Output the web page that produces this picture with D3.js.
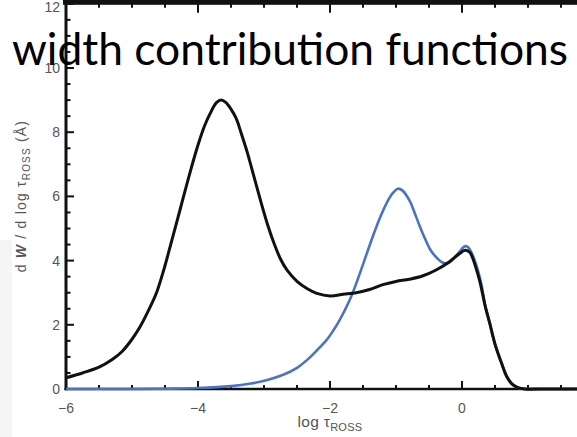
<!DOCTYPE html>
<html>
<head>
<meta charset="utf-8">
<script src="https://cdn.jsdelivr.net/npm/d3@7"></script>
<style>
  html, body { margin: 0; padding: 0; background: #fff; }
  svg { display: block; }
  .tick-label { font-family: "Liberation Sans", Arial, sans-serif; font-size: 14px; fill: #555; }
</style>
</head>
<body>
<svg id="chart" width="577" height="437"></svg>
<script>
// Contribution functions of the equivalent width, d W / d log tau_Ross
const blackLogTau = [-6.0, -5.75, -5.5, -5.3, -5.15, -5.0, -4.88, -4.75, -4.63, -4.52, -4.42, -4.27,
                     -4.12, -4.0, -3.9, -3.8, -3.72, -3.65, -3.58, -3.5, -3.42, -3.35, -3.25, -3.15,
                     -3.05, -2.95, -2.85, -2.75, -2.65, -2.5, -2.35, -2.2, -2.0, -1.8, -1.6, -1.4,
                     -1.2, -1.0, -0.8, -0.6, -0.4, -0.2, -0.05, 0.05, 0.12, 0.2, 0.27, 0.35, 0.42,
                     0.5, 0.6, 0.68, 0.76, 0.85, 0.95, 1.2, 1.6, 2.0];
const blackValues = [0.35, 0.5, 0.68, 0.92, 1.17, 1.55, 1.93, 2.45, 2.99, 3.7, 4.45, 5.6,
                     6.75, 7.6, 8.2, 8.65, 8.92, 9.0, 8.93, 8.72, 8.42, 8.0, 7.35, 6.6,
                     5.85, 5.15, 4.55, 4.05, 3.7, 3.35, 3.13, 2.98, 2.9, 2.95, 3.0, 3.1,
                     3.25, 3.35, 3.42, 3.52, 3.7, 3.95, 4.2, 4.32, 4.25, 3.85, 3.35, 2.6, 2.05,
                     1.4, 0.8, 0.38, 0.15, 0.04, 0.0, 0.0, 0.0, 0.0];

const blueLogTau = [-6.0, -5.0, -4.5, -4.0, -3.5, -3.2, -2.95, -2.7, -2.5, -2.35, -2.2, -2.05, -1.95,
                    -1.85, -1.7, -1.6, -1.48, -1.35, -1.24, -1.14, -1.05, -0.97, -0.9, -0.79, -0.72,
                    -0.64, -0.56, -0.48, -0.38, -0.29, -0.2, -0.14, -0.05, 0.05, 0.1, 0.17, 0.24,
                    0.3, 0.35, 0.42, 0.5, 0.6, 0.68, 0.76, 0.85, 0.95, 1.2, 1.6, 2.0];
const blueValues  = [0.0, 0.0, 0.01, 0.03, 0.09, 0.17, 0.28, 0.45, 0.66, 0.9, 1.2, 1.53, 1.82,
                     2.16, 2.78, 3.3, 4.0, 4.76, 5.35, 5.8, 6.1, 6.24, 6.18, 5.85, 5.5,
                     5.07, 4.68, 4.34, 4.08, 3.93, 3.93, 4.03, 4.25, 4.45, 4.4, 4.13, 3.7,
                     3.2, 2.6, 2.05, 1.4, 0.8, 0.38, 0.15, 0.04, 0.0, 0.0, 0.0, 0.0];

const xMajorTicks = [-6, -4, -2, 0, 2];
const xTickLabels = ["\u22126", "\u22124", "\u22122", "0"];
const yMajorTicks = [0, 2, 4, 6, 8, 10, 12];
const yTickLabels = ["0", "2", "4", "6", "8", "10", "12"];
const titleText = "width contribution functions";

const svg = d3.select("#chart");

const x = d3.scaleLinear().domain([-6, 2]).range([66, 594]);
const y = d3.scaleLinear().domain([0, 12]).range([389, 3.8]);

// faint strip at the left edge of the slide
svg.append("rect").attr("x", 0).attr("y", 240).attr("width", 12).attr("height", 197).attr("fill", "#f5f5f5");

const minorX = d3.range(-6, 2.01, 0.5);
const minorY = d3.range(0, 12.01, 0.5);

// bottom axis
const gx = svg.append("g");
gx.append("line").attr("x1", x(-6) - 1.5).attr("x2", 600).attr("y1", y(0)).attr("y2", y(0))
  .attr("stroke", "#111").attr("stroke-width", 2.6);
gx.selectAll(".xt").data(minorX).join("line")
  .attr("x1", d => x(d)).attr("x2", d => x(d))
  .attr("y1", y(0)).attr("y2", d => y(0) - (xMajorTicks.includes(d) ? 8 : 4))
  .attr("stroke", "#111").attr("stroke-width", 2);
gx.selectAll(".xl").data(xTickLabels).join("text")
  .attr("class", "tick-label").attr("x", (d, i) => x(xMajorTicks[i])).attr("y", y(0) + 24)
  .attr("text-anchor", "middle").text(d => d);

// top frame edge
const gt = svg.append("g");
gt.append("rect").attr("x", x(-6) - 3).attr("y", 0).attr("width", 600).attr("height", y(12) + 1)
  .attr("fill", "#111");
gt.selectAll(".tt").data(minorX).join("line")
  .attr("x1", d => x(d)).attr("x2", d => x(d))
  .attr("y1", y(12)).attr("y2", d => y(12) + (xMajorTicks.includes(d) ? 9 : 4))
  .attr("stroke", "#111").attr("stroke-width", 2);

// left axis
const gy = svg.append("g");
gy.append("line").attr("x1", x(-6)).attr("x2", x(-6)).attr("y1", 0).attr("y2", y(0) + 1.3)
  .attr("stroke", "#111").attr("stroke-width", 3);
gy.selectAll(".yt").data(minorY).join("line")
  .attr("x1", x(-6)).attr("x2", d => x(-6) + (yMajorTicks.includes(d) ? 8 : 4.5))
  .attr("y1", d => y(d)).attr("y2", d => y(d))
  .attr("stroke", "#111").attr("stroke-width", 2);
gy.selectAll(".yl").data(yTickLabels).join("text")
  .attr("class", "tick-label").attr("x", x(-6) - 6)
  .attr("y", (d, i) => y(yMajorTicks[i]) + (i === yMajorTicks.length - 1 ? 3 : 0))
  .attr("dy", "0.35em").attr("text-anchor", "end").text(d => d);

// axis titles
const xt = svg.append("text").attr("class", "tick-label")
  .attr("x", x(-2)).attr("y", 427).attr("text-anchor", "middle")
  .style("font-size", "15.5px").style("letter-spacing", "0.3px");
xt.append("tspan").text("log \u03c4");
xt.append("tspan").attr("dy", 4).style("font-size", "11px").text("ROSS");

const yt = svg.append("text").attr("class", "tick-label")
  .attr("transform", "translate(26,196) rotate(-90)").attr("text-anchor", "middle")
  .style("font-size", "14px").style("letter-spacing", "1.2px");
yt.append("tspan").text("d ");
yt.append("tspan").style("font-style", "italic").style("font-weight", "bold").text("W");
yt.append("tspan").text(" / d log \u03c4");
yt.append("tspan").attr("dy", 4).style("font-size", "10px").text("ROSS");
yt.append("tspan").attr("dy", -4).text(" (\u00c5)");

// curves
const line = d3.line().x(d => x(d[0])).y(d => y(d[1])).curve(d3.curveCatmullRom.alpha(0.5));
svg.append("path").datum(d3.zip(blueLogTau, blueValues))
  .attr("d", line).attr("fill", "none").attr("stroke", "#4a74c2").attr("stroke-width", 2.6)
  .attr("stroke-linejoin", "round");
svg.append("path").datum(d3.zip(blackLogTau, blackValues))
  .attr("d", line).attr("fill", "none").attr("stroke", "#111").attr("stroke-width", 3)
  .attr("stroke-linejoin", "round");

// slide title over the plot
svg.append("text").attr("x", 12).attr("y", 65)
  .attr("textLength", 556).attr("lengthAdjust", "spacingAndGlyphs")
  .style("font-family", "Lato, 'Open Sans', sans-serif").style("font-size", "45px").style("fill", "#000")
  .text(titleText);
</script>
</body>
</html>
